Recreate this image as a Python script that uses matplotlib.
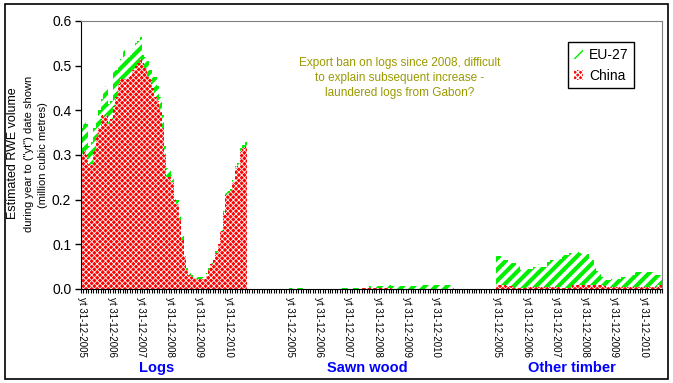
import matplotlib
matplotlib.use('Agg')
import matplotlib.pyplot as plt
from matplotlib.patches import Rectangle
import numpy as np

plt.rcParams['font.family'] = ['Liberation Sans', 'DejaVu Sans']

# monthly values, yt 31-12-2005 .. 2011-07 (68 months per product)
groups = ['Logs', 'Sawn wood', 'Other timber']
year_labels = ['yt 31-12-2005', 'yt 31-12-2006', 'yt 31-12-2007',
               'yt 31-12-2008', 'yt 31-12-2009', 'yt 31-12-2010']

logs_china = [0.30, 0.31, 0.30, 0.28, 0.28, 0.31, 0.34, 0.36, 0.39, 0.385,
              0.39, 0.37, 0.38, 0.41, 0.43, 0.46, 0.47, 0.47, 0.47, 0.475,
              0.48, 0.49, 0.50, 0.505, 0.515, 0.505, 0.495, 0.475, 0.47, 0.45,
              0.43, 0.42, 0.40, 0.36, 0.30, 0.25, 0.25, 0.24, 0.20, 0.19,
              0.155, 0.11, 0.072, 0.042, 0.031, 0.027, 0.025, 0.023, 0.023, 0.023,
              0.023, 0.03, 0.042, 0.055, 0.065, 0.08, 0.10, 0.13, 0.17, 0.21,
              0.215, 0.22, 0.24, 0.27, 0.275, 0.31, 0.315, 0.32]
logs_eu = [0.06, 0.065, 0.07, 0.04, 0.05, 0.05, 0.04, 0.04, 0.035, 0.06,
           0.065, 0.045, 0.04, 0.08, 0.06, 0.045, 0.045, 0.065, 0.045, 0.045,
           0.045, 0.05, 0.05, 0.05, 0.05, 0.02, 0.025, 0.035, 0.02, 0.03,
           0.045, 0.035, 0.03, 0.03, 0.02, 0.02, 0.02, 0.015, 0.01, 0.01,
           0.012, 0.008, 0.008, 0.005, 0.007, 0.005, 0.004, 0.005, 0.004, 0.004,
           0.004, 0.005, 0.005, 0.003, 0.005, 0.005, 0.004, 0.005, 0.005, 0.004,
           0.004, 0.005, 0.005, 0.005, 0.007, 0.006, 0.008, 0.008]

sawn_china = [0.0] * 30 + [0.002] * 12 + [0.001] * 26
sawn_eu = ([0.003] * 6 + [0.0] * 14 + [0.003] * 9 + [0.001] * 4 + [0.004] * 8
           + [0.006] * 13 + [0.007] * 14)

other_china = [0.010, 0.010, 0.010, 0.010, 0.006, 0.006, 0.006, 0.003, 0.003, 0.003,
               0.003, 0.003, 0.003, 0.005, 0.005, 0.005, 0.005, 0.005, 0.005, 0.005,
               0.005, 0.005, 0.005, 0.005, 0.005, 0.005, 0.003, 0.003, 0.003, 0.003,
               0.003, 0.010, 0.010, 0.010, 0.010, 0.010, 0.010, 0.010, 0.010, 0.010,
               0.010, 0.008, 0.008, 0.008, 0.006, 0.004, 0.004, 0.004, 0.004, 0.004,
               0.004, 0.004, 0.004, 0.004, 0.004, 0.004, 0.004, 0.004, 0.004, 0.004,
               0.004, 0.004, 0.004, 0.004, 0.004, 0.004, 0.008, 0.008]
other_total = [0.073, 0.073, 0.071, 0.066, 0.066, 0.059, 0.059, 0.059, 0.051, 0.051,
               0.043, 0.043, 0.045, 0.045, 0.045, 0.049, 0.049, 0.055, 0.050, 0.050,
               0.050, 0.060, 0.064, 0.064, 0.068, 0.068, 0.068, 0.075, 0.075, 0.075,
               0.081, 0.081, 0.084, 0.084, 0.080, 0.079, 0.079, 0.078, 0.064, 0.064,
               0.053, 0.040, 0.040, 0.027, 0.027, 0.020, 0.020, 0.023, 0.023, 0.023,
               0.023, 0.027, 0.027, 0.027, 0.032, 0.032, 0.032, 0.038, 0.038, 0.038,
               0.038, 0.038, 0.038, 0.038, 0.038, 0.032, 0.032, 0.032]
other_eu = list(np.array(other_total) - np.array(other_china))

china = [logs_china, sawn_china, other_china]
eu = [logs_eu, sawn_eu, other_eu]

n_months = 68
group_step = 85
n_cat = 238

W, H = 673, 383
fig = plt.figure(figsize=(W / 100, H / 100), dpi=100)
ax = fig.add_axes([81 / W, 1 - 289 / H, (662 - 81) / W, (289 - 21) / H])

x_all, c_all, e_all = [], [], []
for g in range(3):
    x_all += list(range(g * group_step, g * group_step + n_months))
    c_all += china[g]
    e_all += eu[g]


def set_hatch_lw(bars, lw):
    for p in bars:
        if hasattr(p, 'set_hatch_linewidth'):
            p.set_hatch_linewidth(lw)


b_china = ax.bar(x_all, c_all, width=1.0, color='#ff0000',
                 edgecolor='white', linewidth=0, hatch='xxxxxx', label='China')
set_hatch_lw(b_china, 0.6)
b_eu = ax.bar(x_all, e_all, width=1.0, bottom=c_all, color='white',
              edgecolor='#00ee00', linewidth=0, hatch='///', label='EU-27')
set_hatch_lw(b_eu, 3.0)

ax.set_xlim(-0.5, n_cat - 0.5)
ax.set_ylim(0, 0.6)
ax.set_yticks(np.arange(0, 0.61, 0.1))
ax.set_yticklabels(['%.1f' % v for v in np.arange(0, 0.61, 0.1)], fontsize=10)
ax.tick_params(axis='y', direction='out', length=4, width=1, pad=3)

major = [g * group_step + 12 * m for g in range(3) for m in range(6)]
ax.set_xticks(major)
ax.set_xticklabels(year_labels * 3, rotation=270, fontsize=7, va='top', ha='center')
ax.set_xticks(np.arange(-0.5, n_cat, 1), minor=True)
ax.tick_params(axis='x', which='major', length=0, pad=6)
ax.tick_params(axis='x', which='minor', direction='out', length=3, width=0.8)

for s in ['top', 'right']:
    ax.spines[s].set_color('#808080')
ax.spines['left'].set_color('black')
ax.spines['bottom'].set_color('black')

leg = ax.legend(handles=[b_eu, b_china], loc='upper left',
                bbox_to_anchor=((568 - 81) / (662 - 81), 1 - (42 - 21) / (289 - 21)),
                fontsize=10, fancybox=False, edgecolor='black', framealpha=1,
                handlelength=0.7, handleheight=0.7, handletextpad=0.4,
                borderpad=0.4, labelspacing=0.5, borderaxespad=0)
leg.get_frame().set_linewidth(1.0)

fig.text(400 / W, 1 - 78 / H,
         'Export ban on logs since 2008, difficult\nto explain subsequent increase -\nlaundered logs from Gabon?',
         ha='center', va='center', multialignment='center', fontsize=8.5,
         color='#9a9a00', linespacing=1.3)

fig.text(13 / W, 1 - 153 / H, 'Estimated RWE volume', rotation=90,
         ha='center', va='center', fontsize=9)
fig.text(29 / W, 1 - 154 / H, 'during year to ("yt") date shown', rotation=90,
         ha='center', va='center', fontsize=8)
fig.text(43 / W, 1 - 155 / H, '(million cubic metres)', rotation=90,
         ha='center', va='center', fontsize=8)

for name, xc in zip(groups, [157, 367, 572]):
    fig.text(xc / W, 1 - 368 / H, name, ha='center', va='center',
             fontsize=10.5, fontweight='bold', color='#0000ff')

fig.patches.append(Rectangle((5 / W, 1 - 379 / H), (668 - 5) / W, (379 - 4) / H,
                             transform=fig.transFigure, fill=False,
                             edgecolor='black', linewidth=1.2))

fig.savefig('out.png', dpi=100)
